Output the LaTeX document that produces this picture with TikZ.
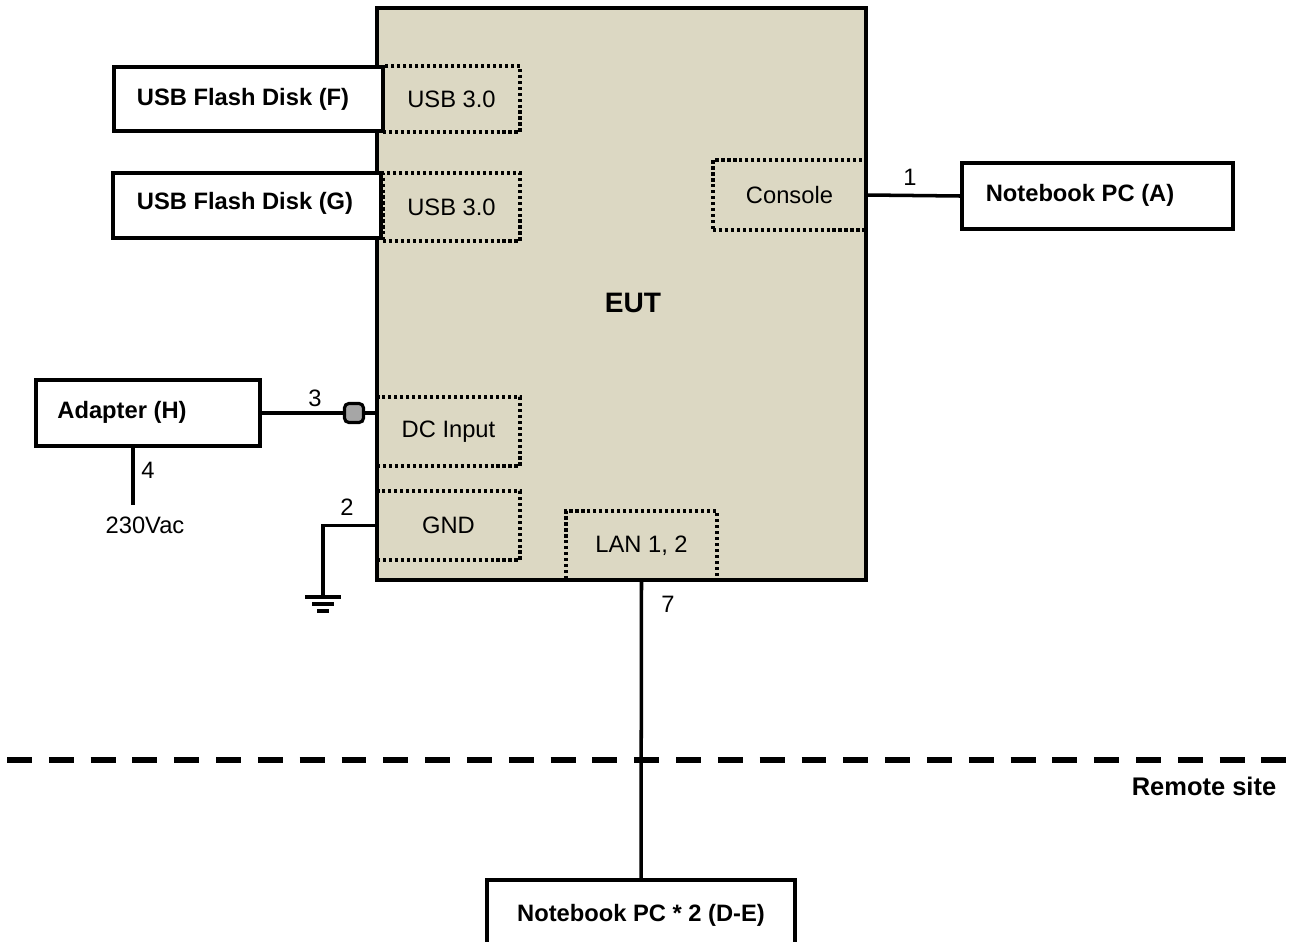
\documentclass[tikz,border=0pt]{standalone}
\usepackage{fontspec}
\setmainfont{Liberation Sans}
\usetikzlibrary{positioning}
\definecolor{eutfill}{HTML}{DCD8C3}
\definecolor{plugfill}{HTML}{A6A6A6}
\tikzset{
	unitbox/.style={draw, line width=2pt, fill=white, inner sep=0pt},
	portbox/.style={draw, line width=1.8pt, dash pattern=on 1.8pt off 1.6pt, inner sep=0pt, font=\fontsize{13.5}{16}\selectfont},
	bold/.style={font=\bfseries\fontsize{13.5}{16}\selectfont},
	plain/.style={font=\fontsize{13.5}{16}\selectfont},
	wire/.style={line width=2pt}
}
\begin{document}
\begin{tikzpicture}[x=0.02cm, y=-0.02cm]
		%%%%% START %%%%%
		\useasboundingbox (0, 0) rectangle (1295, 941);
		
		\node[draw, line width=2pt, fill=eutfill, minimum width=9.78cm, minimum height=11.44cm] (eut) at (621.5, 294) {};
		\node[font=\bfseries\fontsize{16}{19}\selectfont] at (633, 303) {EUT};
		
		\node[portbox, minimum width=2.74cm, minimum height=1.32cm] (usbone) at (451.5, 99) {USB 3.0};
		\node[portbox, minimum width=2.74cm, minimum height=1.36cm] (usbtwo) at (451.5, 207) {USB 3.0};
		\node[portbox, minimum width=3.06cm, minimum height=1.40cm] (console) at (789.5, 195) {Console};
		\node[portbox, minimum width=2.86cm, minimum height=1.38cm] (dcin) at (448.5, 431.5) {DC Input};
		\node[portbox, minimum width=2.86cm, minimum height=1.38cm] (gnd) at (448.5, 525.5) {GND};
		\node[portbox, minimum width=3.02cm, minimum height=1.38cm] (lan) at (641.5, 545.5) {LAN 1, 2};
		
		\node[unitbox, minimum width=5.38cm, minimum height=1.28cm] (usbf) at (248.5, 99) {};
		\node[bold] at (243, 99) {USB Flash Disk (F)};
		\node[unitbox, minimum width=5.36cm, minimum height=1.30cm] (usbg) at (247, 205.5) {};
		\node[bold] at (245, 203) {USB Flash Disk (G)};
		
		\node[unitbox, minimum width=5.42cm, minimum height=1.32cm] (nba) at (1097.5, 196) {};
		\node[bold] at (1080, 195) {Notebook PC (A)};
		\draw[wire] (console.east) -- (nba.west);
		\node[plain] at (910, 177) {1};
		
		\node[unitbox, minimum width=4.48cm, minimum height=1.32cm] (adapter) at (148, 413) {};
		\node[bold] at (122, 412) {Adapter (H)};
		\node[draw, line width=1.8pt, fill=plugfill, rounded corners=2.5pt, minimum width=0.38cm, minimum height=0.38cm, inner sep=0pt] (plug) at (354, 413) {};
		\draw[wire] (adapter.east) -- (plug.west);
		\draw[wire] (plug.east) -- (plug.east -| eut.west);
		\node[plain] at (315, 398) {3};
		
		\coordinate (acend) at (133, 505);
		\draw[line width=2.3pt] (adapter.south -| acend) -- (acend);
		\node[plain] at (148, 470) {4};
		\node[plain] (mains) at (145, 525) {230Vac};
		
		\coordinate (earth) at (323, 597);
		\draw[wire] (gnd.west) -| (earth);
		\draw[wire] (earth) ++(-18, 0) -- ++(36, 0);
		\draw[wire] (earth) ++(-11, 7) -- ++(22, 0);
		\draw[wire] (earth) ++(-6, 14) -- ++(12, 0);
		\node[plain] at (347, 507) {2};
		
		\node[unitbox, minimum width=6.16cm, minimum height=1.40cm] (nbde) at (641, 915) {};
		\node[bold] at (641, 915) {Notebook PC * 2 (D-E)};
		\draw[wire] (lan.south) -- (nbde.north);
		\node[plain] at (668, 604) {7};
		
		\draw[line width=3.3pt, dash pattern=on 14.2pt off 9.6pt] (7, 760) -- (1295, 760);
		\node[font=\bfseries\fontsize{14.5}{17}\selectfont] at (1204, 786) {Remote site};
		
		%%%%% END %%%%%
	\end{tikzpicture}
\end{document}
